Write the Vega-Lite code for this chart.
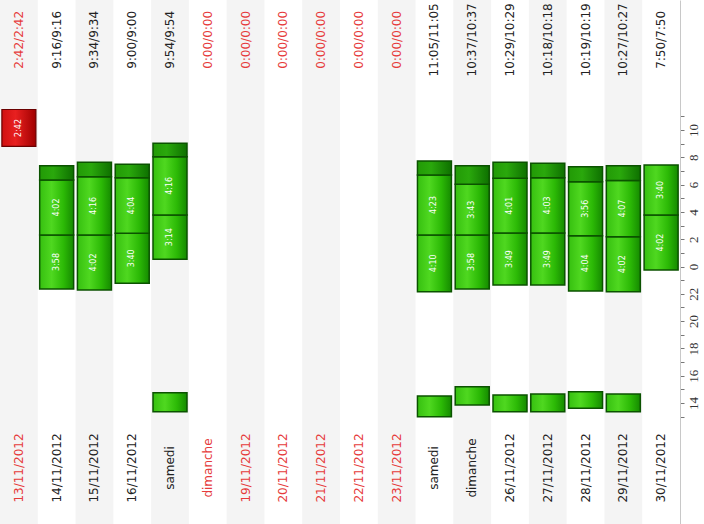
{
  "$schema": "https://vega.github.io/schema/vega-lite/v6.json",
  "width": 680,
  "height": 524,
  "padding": {"left": 0, "top": 0, "bottom": 0, "right": 24},
  "autosize": {"type": "none"},
  "background": "white",
  "config": {"view": {"stroke": null}, "font": "DejaVu Sans",
    "axisY": {"title": null, "grid": false, "labelAngle": 270, "labelAlign": "center", "labelBaseline": "top",
              "labelFont": "Liberation Serif", "labelFontSize": 13, "labelColor": "#333333",
              "tickSize": 4, "tickColor": "#777777", "domainColor": "#c8c8c8", "labelPadding": 3, "labelOverlap": false}},
  "datasets": {
    "days": [
      {"row": 0, "d": "2012-11-13", "label": "13/11/2012", "total": "2:42/2:42", "flag": "low"},
      {"row": 1, "d": "2012-11-14", "label": "14/11/2012", "total": "9:16/9:16", "flag": "ok"},
      {"row": 2, "d": "2012-11-15", "label": "15/11/2012", "total": "9:34/9:34", "flag": "ok"},
      {"row": 3, "d": "2012-11-16", "label": "16/11/2012", "total": "9:00/9:00", "flag": "ok"},
      {"row": 4, "d": "2012-11-17", "label": "samedi", "total": "9:54/9:54", "flag": "ok"},
      {"row": 5, "d": "2012-11-18", "label": "dimanche", "total": "0:00/0:00", "flag": "low"},
      {"row": 6, "d": "2012-11-19", "label": "19/11/2012", "total": "0:00/0:00", "flag": "low"},
      {"row": 7, "d": "2012-11-20", "label": "20/11/2012", "total": "0:00/0:00", "flag": "low"},
      {"row": 8, "d": "2012-11-21", "label": "21/11/2012", "total": "0:00/0:00", "flag": "low"},
      {"row": 9, "d": "2012-11-22", "label": "22/11/2012", "total": "0:00/0:00", "flag": "low"},
      {"row": 10, "d": "2012-11-23", "label": "23/11/2012", "total": "0:00/0:00", "flag": "low"},
      {"row": 11, "d": "2012-11-24", "label": "samedi", "total": "11:05/11:05", "flag": "ok"},
      {"row": 12, "d": "2012-11-25", "label": "dimanche", "total": "10:37/10:37", "flag": "ok"},
      {"row": 13, "d": "2012-11-26", "label": "26/11/2012", "total": "10:29/10:29", "flag": "ok"},
      {"row": 14, "d": "2012-11-27", "label": "27/11/2012", "total": "10:18/10:18", "flag": "ok"},
      {"row": 15, "d": "2012-11-28", "label": "28/11/2012", "total": "10:19/10:19", "flag": "ok"},
      {"row": 16, "d": "2012-11-29", "label": "29/11/2012", "total": "10:27/10:27", "flag": "ok"},
      {"row": 17, "d": "2012-11-30", "label": "30/11/2012", "total": "7:50/7:50", "flag": "ok"}
    ],
    "segs": [
      {"d": "2012-11-13", "kind": "short", "start": 32.8, "end": 35.5, "text": "2:42"},
      {"d": "2012-11-14", "kind": "main", "start": 22.35, "end": 26.31, "text": "3:58"},
      {"d": "2012-11-14", "kind": "main", "start": 26.31, "end": 30.34, "text": "4:02"},
      {"d": "2012-11-14", "kind": "top", "start": 30.34, "end": 31.38, "text": ""},
      {"d": "2012-11-15", "kind": "main", "start": 22.28, "end": 26.31, "text": "4:02"},
      {"d": "2012-11-15", "kind": "main", "start": 26.31, "end": 30.58, "text": "4:16"},
      {"d": "2012-11-15", "kind": "top", "start": 30.58, "end": 31.63, "text": ""},
      {"d": "2012-11-16", "kind": "main", "start": 22.77, "end": 26.43, "text": "3:40"},
      {"d": "2012-11-16", "kind": "main", "start": 26.43, "end": 30.5, "text": "4:04"},
      {"d": "2012-11-16", "kind": "top", "start": 30.5, "end": 31.49, "text": ""},
      {"d": "2012-11-17", "kind": "main", "start": 24.53, "end": 27.77, "text": "3:14"},
      {"d": "2012-11-17", "kind": "main", "start": 27.77, "end": 32.04, "text": "4:16"},
      {"d": "2012-11-17", "kind": "top", "start": 32.04, "end": 33.02, "text": ""},
      {"d": "2012-11-17", "kind": "nap", "start": 13.36, "end": 14.75, "text": ""},
      {"d": "2012-11-24", "kind": "main", "start": 22.15, "end": 26.31, "text": "4:10"},
      {"d": "2012-11-24", "kind": "main", "start": 26.31, "end": 30.7, "text": "4:23"},
      {"d": "2012-11-24", "kind": "top", "start": 30.7, "end": 31.73, "text": ""},
      {"d": "2012-11-24", "kind": "nap", "start": 13.0, "end": 14.51, "text": ""},
      {"d": "2012-11-25", "kind": "main", "start": 22.35, "end": 26.31, "text": "3:58"},
      {"d": "2012-11-25", "kind": "main", "start": 26.31, "end": 30.02, "text": "3:43"},
      {"d": "2012-11-25", "kind": "top", "start": 30.02, "end": 31.38, "text": ""},
      {"d": "2012-11-25", "kind": "nap", "start": 13.85, "end": 15.19, "text": ""},
      {"d": "2012-11-26", "kind": "main", "start": 22.64, "end": 26.45, "text": "3:49"},
      {"d": "2012-11-26", "kind": "main", "start": 26.45, "end": 30.46, "text": "4:01"},
      {"d": "2012-11-26", "kind": "top", "start": 30.46, "end": 31.63, "text": ""},
      {"d": "2012-11-26", "kind": "nap", "start": 13.36, "end": 14.59, "text": ""},
      {"d": "2012-11-27", "kind": "main", "start": 22.64, "end": 26.45, "text": "3:49"},
      {"d": "2012-11-27", "kind": "main", "start": 26.45, "end": 30.5, "text": "4:03"},
      {"d": "2012-11-27", "kind": "top", "start": 30.5, "end": 31.56, "text": ""},
      {"d": "2012-11-27", "kind": "nap", "start": 13.36, "end": 14.66, "text": ""},
      {"d": "2012-11-28", "kind": "main", "start": 22.2, "end": 26.26, "text": "4:04"},
      {"d": "2012-11-28", "kind": "main", "start": 26.26, "end": 30.2, "text": "3:56"},
      {"d": "2012-11-28", "kind": "top", "start": 30.2, "end": 31.31, "text": ""},
      {"d": "2012-11-28", "kind": "nap", "start": 13.61, "end": 14.83, "text": ""},
      {"d": "2012-11-29", "kind": "main", "start": 22.15, "end": 26.18, "text": "4:02"},
      {"d": "2012-11-29", "kind": "main", "start": 26.18, "end": 30.3, "text": "4:07"},
      {"d": "2012-11-29", "kind": "top", "start": 30.3, "end": 31.38, "text": ""},
      {"d": "2012-11-29", "kind": "nap", "start": 13.36, "end": 14.66, "text": ""},
      {"d": "2012-11-30", "kind": "main", "start": 23.74, "end": 27.77, "text": "4:02"},
      {"d": "2012-11-30", "kind": "main", "start": 27.77, "end": 31.44, "text": "3:40"}
    ]
  },
  "layer": [
    {
      "data": {"name": "days"},
      "transform": [{"filter": "datum.row % 2 == 0"}],
      "mark": {"type": "rect", "fill": "#f4f4f4"},
      "encoding": {
        "x": {"field": "d", "type": "nominal", "axis": null,
              "scale": {"domain": ["2012-11-13","2012-11-14","2012-11-15","2012-11-16","2012-11-17","2012-11-18","2012-11-19","2012-11-20","2012-11-21","2012-11-22","2012-11-23","2012-11-24","2012-11-25","2012-11-26","2012-11-27","2012-11-28","2012-11-29","2012-11-30"], "paddingInner": 0, "paddingOuter": 0}},
        "y": {"datum": 5.14, "type": "quantitative",
              "scale": {"domain": [5.14, 43.52], "nice": false, "zero": false},
              "axis": {"orient": "right", "values": [13,14,15,16,17,18,19,20,21,22,23,24,25,26,27,28,29,30,31,32,33,34,35],
                       "labelExpr": "datum.value % 2 == 0 ? '' + (datum.value % 24) : ''"}},
        "y2": {"datum": 43.52}
      }
    },
    {
      "data": {"name": "segs"},
      "transform": [{"filter": "datum.kind == 'main' || datum.kind == 'nap'"}],
      "mark": {"type": "bar", "width": {"band": 0.9}, "stroke": "#0b5200", "strokeWidth": 1.5,
               "fill": {"gradient": "linear", "x1": 0, "y1": 0, "x2": 1, "y2": 0,
                        "stops": [{"offset": 0, "color": "#36c010"}, {"offset": 0.35, "color": "#4fd820"}, {"offset": 0.7, "color": "#2cba06"}, {"offset": 1, "color": "#158a00"}]}},
      "encoding": {
        "x": {"field": "d", "type": "nominal"},
        "y": {"field": "start", "type": "quantitative",
              "axis": {"orient": "right", "values": [13,14,15,16,17,18,19,20,21,22,23,24,25,26,27,28,29,30,31,32,33,34,35],
                       "labelExpr": "datum.value % 2 == 0 ? '' + (datum.value % 24) : ''"}},
        "y2": {"field": "end"}
      }
    },
    {
      "data": {"name": "segs"},
      "transform": [{"filter": "datum.kind == 'top'"}],
      "mark": {"type": "bar", "width": {"band": 0.9}, "stroke": "#0b5200", "strokeWidth": 1.5,
               "fill": {"gradient": "linear", "x1": 0, "y1": 0, "x2": 1, "y2": 0,
                        "stops": [{"offset": 0, "color": "#229a06"}, {"offset": 0.4, "color": "#2aa80c"}, {"offset": 1, "color": "#0e7000"}]}},
      "encoding": {
        "x": {"field": "d", "type": "nominal"},
        "y": {"field": "start", "type": "quantitative",
              "axis": {"orient": "right", "values": [13,14,15,16,17,18,19,20,21,22,23,24,25,26,27,28,29,30,31,32,33,34,35],
                       "labelExpr": "datum.value % 2 == 0 ? '' + (datum.value % 24) : ''"}},
        "y2": {"field": "end"}
      }
    },
    {
      "data": {"name": "segs"},
      "transform": [{"filter": "datum.kind == 'short'"}],
      "mark": {"type": "bar", "width": {"band": 0.9}, "stroke": "#6a0000", "strokeWidth": 1.2,
               "fill": {"gradient": "linear", "x1": 0, "y1": 0, "x2": 1, "y2": 0,
                        "stops": [{"offset": 0, "color": "#d01010"}, {"offset": 0.4, "color": "#e82020"}, {"offset": 1, "color": "#a00000"}]}},
      "encoding": {
        "x": {"field": "d", "type": "nominal"},
        "y": {"field": "start", "type": "quantitative",
              "axis": {"orient": "right", "values": [13,14,15,16,17,18,19,20,21,22,23,24,25,26,27,28,29,30,31,32,33,34,35],
                       "labelExpr": "datum.value % 2 == 0 ? '' + (datum.value % 24) : ''"}},
        "y2": {"field": "end"}
      }
    },
    {
      "data": {"name": "segs"},
      "transform": [{"filter": "datum.text != ''"}, {"calculate": "(datum.start + datum.end) / 2", "as": "mid"}],
      "mark": {"type": "text", "angle": 270, "align": "center", "baseline": "middle", "fontSize": 8, "fill": "#ffffff", "font": "DejaVu Sans"},
      "encoding": {
        "x": {"field": "d", "type": "nominal"},
        "y": {"field": "mid", "type": "quantitative",
              "axis": {"orient": "right", "values": [13,14,15,16,17,18,19,20,21,22,23,24,25,26,27,28,29,30,31,32,33,34,35],
                       "labelExpr": "datum.value % 2 == 0 ? '' + (datum.value % 24) : ''"}},
        "text": {"field": "text"}
      }
    },
    {
      "data": {"name": "days"},
      "mark": {"type": "text", "angle": 270, "align": "center", "baseline": "middle", "fontSize": 12, "font": "DejaVu Sans"},
      "encoding": {
        "x": {"field": "d", "type": "nominal"},
        "y": {"datum": 9.24, "type": "quantitative",
              "axis": {"orient": "right", "values": [13,14,15,16,17,18,19,20,21,22,23,24,25,26,27,28,29,30,31,32,33,34,35],
                       "labelExpr": "datum.value % 2 == 0 ? '' + (datum.value % 24) : ''"}},
        "text": {"field": "label"},
        "color": {"field": "flag", "type": "nominal", "scale": {"domain": ["low", "ok"], "range": ["#e63b3b", "#222222"]}, "legend": null}
      }
    },
    {
      "data": {"name": "days"},
      "mark": {"type": "text", "angle": 270, "align": "center", "baseline": "middle", "fontSize": 12, "font": "DejaVu Sans"},
      "encoding": {
        "x": {"field": "d", "type": "nominal"},
        "y": {"datum": 40.6, "type": "quantitative",
              "axis": {"orient": "right", "values": [13,14,15,16,17,18,19,20,21,22,23,24,25,26,27,28,29,30,31,32,33,34,35],
                       "labelExpr": "datum.value % 2 == 0 ? '' + (datum.value % 24) : ''"}},
        "text": {"field": "total"},
        "color": {"field": "flag", "type": "nominal", "legend": null}
      }
    }
  ]
}
